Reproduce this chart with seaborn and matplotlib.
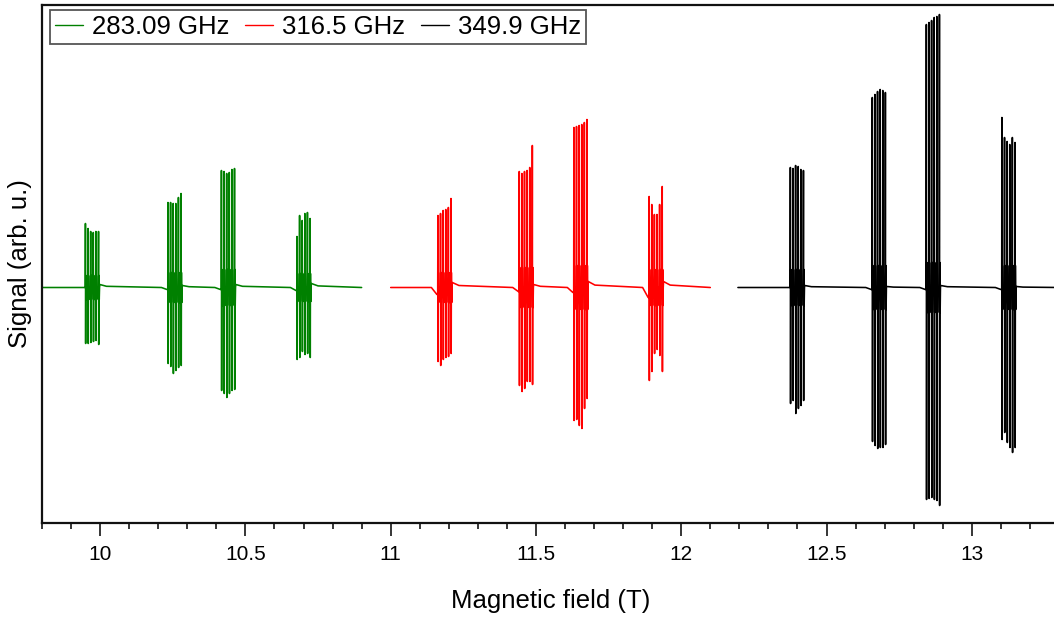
import numpy as np
import pandas as pd
import matplotlib
matplotlib.use("Agg")
import matplotlib.pyplot as plt
import seaborn as sns

# ---------------- data ----------------
labels = ["283.09 GHz", "316.5 GHz", "349.9 GHz"]
colors = ["#008000", "#ff0000", "#000000"]

# field range covered by each trace (T)
ranges = [(9.80, 10.90), (11.00, 12.10), (12.195, 13.30)]

# centre of every group of hyperfine lines (T)
green_centres = [9.972, 10.256, 10.440, 10.700]
red_centres = [11.185, 11.465, 11.653, 11.912]
black_centres = [12.398, 12.680, 12.866, 13.126]

# offsets of the six lines inside a group (T)
line_offsets = [-0.0225, -0.0135, -0.0045, 0.0045, 0.0135, 0.0225]

# positive / negative extremes of each line (arb. u.)
green_tops = [[0.64, 0.59, 0.56, 0.55, 0.56, 0.56],
              [0.85, 0.85, 0.84, 0.84, 0.90, 0.94],
              [1.17, 1.16, 1.14, 1.15, 1.18, 1.19],
              [0.51, 0.72, 0.67, 0.74, 0.75, 0.69]]
green_bots = [[-0.56, -0.56, -0.55, -0.54, -0.53, -0.57],
              [-0.76, -0.79, -0.86, -0.83, -0.80, -0.78],
              [-1.03, -1.06, -1.10, -1.06, -1.03, -1.02],
              [-0.72, -0.70, -0.64, -0.67, -0.66, -0.70]]
red_tops = [[0.72, 0.74, 0.77, 0.78, 0.80, 0.89],
            [1.16, 1.14, 1.16, 1.17, 1.20, 1.42],
            [1.60, 1.61, 1.62, 1.63, 1.65, 1.68],
            [0.91, 0.83, 0.73, 0.73, 0.83, 1.01]]
red_bots = [[-0.74, -0.78, -0.72, -0.70, -0.69, -0.66],
            [-0.98, -1.04, -1.01, -0.94, -0.94, -0.97],
            [-1.33, -1.32, -1.38, -1.41, -1.21, -1.11],
            [-0.93, -0.84, -0.66, -0.62, -0.68, -0.84]]
black_tops = [[1.20, 1.19, 1.22, 1.21, 1.18, 1.17],
              [1.90, 1.93, 1.96, 1.98, 1.97, 1.95],
              [2.63, 2.65, 2.67, 2.70, 2.71, 2.73],
              [1.70, 1.50, 1.46, 1.43, 1.50, 1.45]]
black_bots = [[-1.16, -1.13, -1.26, -1.21, -1.18, -1.13],
              [-1.54, -1.58, -1.61, -1.60, -1.60, -1.57],
              [-2.12, -2.11, -2.10, -2.12, -2.13, -2.18],
              [-1.52, -1.45, -1.55, -1.60, -1.65, -1.60]]

# small baseline dip before and bump after each group (arb. u.)
green_pre = [0.00, -0.02, -0.02, -0.03]
green_post = [0.03, 0.02, 0.03, 0.04]
red_pre = [-0.07, -0.04, -0.05, -0.10]
red_post = [0.05, 0.03, 0.06, 0.06]
black_pre = [0.00, -0.02, -0.02, -0.02]
black_post = [0.02, 0.01, 0.02, 0.01]

# half-height of the dense central block of each group (arb. u.)
green_core = [0.12, 0.15, 0.18, 0.14]
red_core = [0.15, 0.20, 0.22, 0.18]
black_core = [0.18, 0.22, 0.25, 0.22]

xticks = [10, 10.5, 11, 11.5, 12, 12.5, 13]
xticklabels = ["10", "10.5", "11", "11.5", "12", "12.5", "13"]


def build_trace(rng, centres, tops, bots, pre, post, core, d=0.0007):
    xs, ys = [rng[0]], [0.0]
    for c, t_list, b_list, p0, p1, k in zip(centres, tops, bots, pre, post, core):
        xs += [c - 0.045, c - 0.026]
        ys += [0.0, p0]
        for off, t, b in zip(line_offsets, t_list, b_list):
            x = c + off
            xs += [x - d, x, x + d, x + 2 * d, x + 3.5 * d, x + 5 * d]
            ys += [p0, t, b, k, -k, 0.0]
        xs += [c + 0.027, c + 0.05]
        ys += [p1, p1 * 0.4]
    xs.append(rng[1])
    ys.append(0.0)
    return pd.DataFrame({"field": xs, "signal": ys})


traces = [
    build_trace(ranges[0], green_centres, green_tops, green_bots, green_pre, green_post, green_core),
    build_trace(ranges[1], red_centres, red_tops, red_bots, red_pre, red_post, red_core),
    build_trace(ranges[2], black_centres, black_tops, black_bots, black_pre, black_post, black_core),
]

# ---------------- figure ----------------
sns.set_theme(style="ticks")
plt.rcParams["font.family"] = ["Liberation Sans", "DejaVu Sans"]
plt.rcParams["text.color"] = "black"
plt.rcParams["axes.labelcolor"] = "black"
plt.rcParams["xtick.color"] = "black"
plt.rcParams["ytick.color"] = "black"

W, H = 1054, 617
fig = plt.figure(figsize=(W / 100, H / 100), dpi=100)
ax = fig.add_axes([42 / W, 1 - 523 / H, (1059 - 42) / W, (523 - 5) / H])

for df, col, lab in zip(traces, colors, labels):
    sns.lineplot(data=df, x="field", y="signal", sort=False, estimator=None,
                 color=col, linewidth=1.15, label=lab, ax=ax)

ax.set_xlim(9.8, 13.3)
ax.set_ylim(-2.355, 2.825)
ax.set_yticks([])
ax.set_xticks(xticks)
ax.set_xticklabels(xticklabels, fontsize=15)
ax.set_xticks(np.arange(9.8, 13.31, 0.1), minor=True)
ax.tick_params(axis="x", which="major", direction="out", length=9, width=1.1,
               pad=7, color="black", labelcolor="black")
ax.tick_params(axis="x", which="minor", direction="out", length=4.5, width=1.1,
               color="black")

for side in ["left", "bottom", "top", "right"]:
    ax.spines[side].set_linewidth(1.6)
    ax.spines[side].set_color("#111111")

ax.set_xlabel("Magnetic field (T)", fontsize=18.5, labelpad=18, color="black")
ax.set_ylabel("Signal (arb. u.)", fontsize=18.5, labelpad=7, color="black")

leg = ax.legend(loc="upper left", bbox_to_anchor=(8 / 1017, 1 - 5 / 518),
                borderaxespad=0, ncol=3, fontsize=18.5, frameon=True,
                fancybox=False, handlelength=1.1, handletextpad=0.35,
                columnspacing=0.6, borderpad=0.2)
leg.get_frame().set_edgecolor("#555555")
leg.get_frame().set_linewidth(1.3)
leg.get_frame().set_alpha(1)
for line in leg.get_lines():
    line.set_linewidth(1.0)
for txt in leg.get_texts():
    txt.set_color("black")

fig.savefig("out.png", dpi=100)
